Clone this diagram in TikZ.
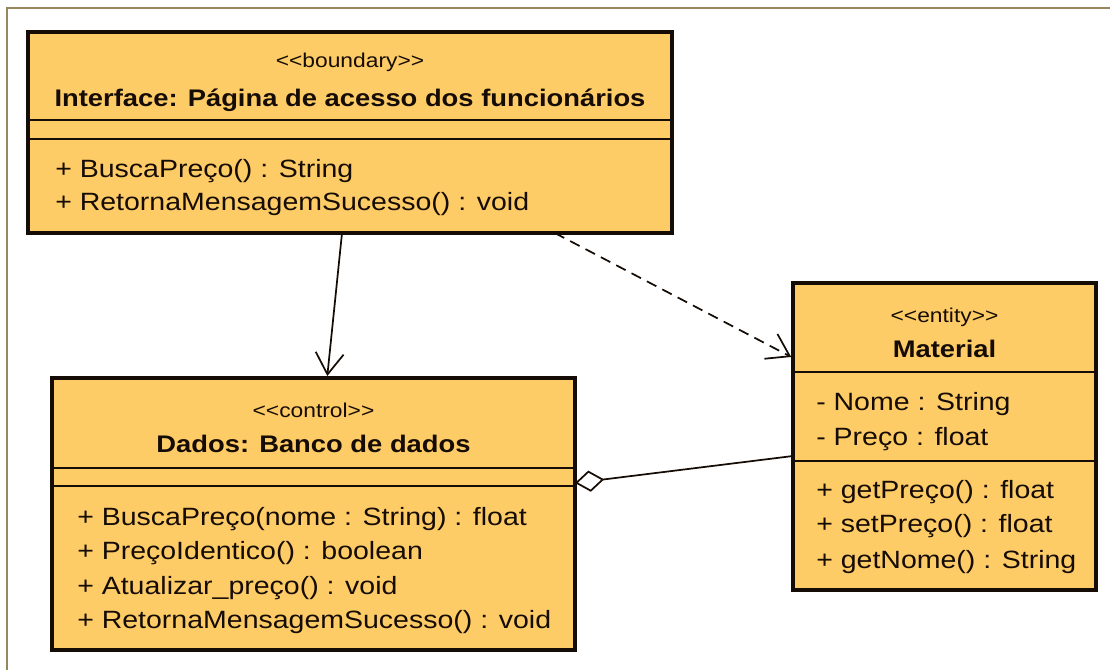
\documentclass[tikz,border=0pt]{standalone}
\usepackage{fontspec}
\setmainfont{Liberation Sans}[FakeStretch=1.14]
\usetikzlibrary{arrows.meta,calc,fit}

\definecolor{umlfill}{RGB}{254,204,102}
\definecolor{umlline}{RGB}{22,12,6}
\definecolor{framecol}{RGB}{150,135,95}

% guillemet-free stereotype brackets (keeps the TeX mapping from merging them)
\newcommand\stL{\mbox{<}\mbox{<}}
\newcommand\stR{\mbox{>}\mbox{>}}

\tikzset{
  classbox/.style={draw=umlline, line width=3pt, fill=umlfill, inner sep=0pt, outer sep=0pt},
  divider/.style={draw=umlline, line width=1.5pt},
  stereo/.style={font=\fontsize{15pt}{18pt}\selectfont, anchor=base, inner sep=0pt, text=umlline},
  ctitle/.style={font=\bfseries\fontsize{18pt}{21pt}\selectfont, anchor=base, inner sep=0pt, text=umlline},
  member/.style={font=\fontsize{18.75pt}{22pt}\selectfont, anchor=base west, inner sep=0pt, text=umlline},
  assoc/.style={draw=umlline, line width=1.3pt},
  navarrow/.style={-{Straight Barb[length=16pt,width=21pt]}, shorten >=1.5pt},
  dependency/.style={assoc, dash pattern=on 8pt off 5pt, navarrow},
  aggregation/.style={assoc, {Diamond[length=22pt,width=16pt,fill=white]}-}
}

\begin{document}
\begin{tikzpicture}[x=0.75pt, y=-0.75pt]
\useasboundingbox (0,0) rectangle (1110,670);

% page frame
\draw[framecol, line width=1.5pt] (7,670) -- (7,8) -- (1110,8);

% ---- boundary class ----
\node[classbox, fit={(28,32) (672,233)}] (iface) {};
\draw[divider] ($(iface.north west)+(0,88)$) -- ($(iface.north east)+(0,88)$);
\draw[divider] ($(iface.north west)+(0,107)$) -- ($(iface.north east)+(0,107)$);
\node[stereo] (ifaceS) at ($(iface.north)+(0,36)$) {\stL boundary\stR};
\node[ctitle] (ifaceT) at ($(iface.north)+(0,75)$) {Interface: Página de acesso dos funcionários};
\node[member] (ifaceO1) at ($(iface.north west)+(27,146)$) {+ BuscaPreço() : String};
\node[member] (ifaceO2) at ($(iface.north west)+(27,179)$) {+ RetornaMensagemSucesso() : void};

% ---- control class ----
\node[classbox, fit={(52,378) (575,650)}] (dados) {};
\draw[divider] ($(dados.north west)+(0,90)$) -- ($(dados.north east)+(0,90)$);
\draw[divider] ($(dados.north west)+(0,108)$) -- ($(dados.north east)+(0,108)$);
\node[stereo] (dadosS) at ($(dados.north)+(0,39)$) {\stL control\stR};
\node[ctitle] (dadosT) at ($(dados.north)+(0,74)$) {Dados: Banco de dados};
\node[member] (dadosO1) at ($(dados.north west)+(25,147)$) {+ BuscaPreço(nome : String) : float};
\node[member] (dadosO2) at ($(dados.north west)+(25,181)$) {+ PreçoIdentico() : boolean};
\node[member] (dadosO3) at ($(dados.north west)+(25,216)$) {+ Atualizar\_preço() : void};
\node[member] (dadosO4) at ($(dados.north west)+(25,250)$) {+ RetornaMensagemSucesso() : void};

% ---- entity class ----
\node[classbox, fit={(793,283) (1096,590)}] (mat) {};
\draw[divider] ($(mat.north west)+(0,89)$) -- ($(mat.north east)+(0,89)$);
\draw[divider] ($(mat.north west)+(0,178)$) -- ($(mat.north east)+(0,178)$);
\node[stereo] (matS) at ($(mat.north)+(0,40)$) {\stL entity\stR};
\node[ctitle] (matT) at ($(mat.north)+(0,74)$) {Material};
\node[member] (matA1) at ($(mat.north west)+(23,127)$) {- Nome : String};
\node[member] (matA2) at ($(mat.north west)+(23,162)$) {- Preço : float};
\node[member] (matO1) at ($(mat.north west)+(23,215)$) {+ getPreço() : float};
\node[member] (matO2) at ($(mat.north west)+(23,249)$) {+ setPreço() : float};
\node[member] (matO3) at ($(mat.north west)+(23,285)$) {+ getNome() : String};

% ---- relations ----
\draw[assoc, navarrow]
  ($(iface.south west)!0.4876!(iface.south east)$) -- ($(dados.north west)!0.526!(dados.north east)$);
\draw[dependency]
  ($(iface.south west)!0.818!(iface.south east)$) -- ($(mat.north west)!0.244!(mat.south west)$);
\draw[aggregation]
  ($(dados.north east)!0.386!(dados.south east)$) -- ($(mat.north west)!0.5635!(mat.south west)$);
\end{tikzpicture}
\end{document}
